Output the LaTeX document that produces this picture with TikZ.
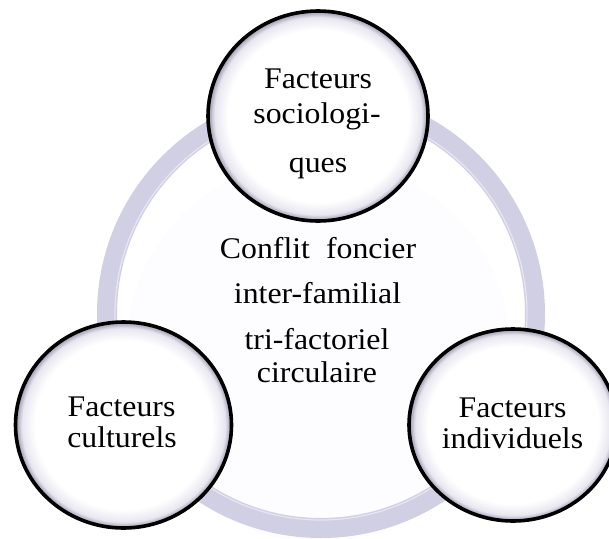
\documentclass[tikz,border=0pt]{standalone}
\usepackage{fontspec}
\setmainfont{Liberation Serif}[FakeStretch=1.06]
\usetikzlibrary{shapes.geometric}
\definecolor{ringcol}{RGB}{209,207,228}
\definecolor{ringhi}{RGB}{232,230,243}
\definecolor{discfill}{RGB}{253,252,255}
\definecolor{edgeshade}{RGB}{150,148,168}
\definecolor{edgemid}{RGB}{232,231,240}
\pgfdeclareradialshading{bubble}{\pgfpoint{0bp}{0bp}}{color(0bp)=(white); color(20.5bp)=(white); color(23.5bp)=(edgemid); color(25bp)=(edgeshade); color(50bp)=(edgeshade)}
\tikzset{
  factor/.style={ellipse, draw=black, line width=3.6pt, shade, shading=bubble, inner sep=0pt},
  lbl/.style={anchor=base, font=\fontsize{30}{32}\selectfont, inner sep=0pt},
}
\begin{document}
\begin{tikzpicture}[x=1pt,y=-1pt]
\useasboundingbox (0,0) rectangle (609,538);
\clip (0,0) rectangle (609,538);
\fill[discfill] (318,350) circle[radius=192pt];
\fill[ringcol, even odd rule] (321,314) circle[radius=224pt] (321,314) circle[radius=204pt];
\draw[ringhi, line width=1.2pt] (321,314) circle[radius=206pt];
\node[factor, minimum width=220pt, minimum height=210pt] (soc) at (318,116) {};
\node[factor, minimum width=216pt, minimum height=206pt] (cul) at (123.5,425) {};
\node[factor, minimum width=208pt, minimum height=192pt] (ind) at (513,425) {};
\node[lbl] (soc1) at (318,88) {Facteurs};
\node[lbl] (soc2) at (317,123) {sociologi-};
\node[lbl] (soc3) at (318,172) {ques};
\node[lbl] (c1) at (318,258) {Conflit\hspace*{16pt}foncier};
\node[lbl] (c2) at (317.5,303) {inter-familial};
\node[lbl] (c3) at (317,349) {tri-factoriel};
\node[lbl] (c4) at (317,382) {circulaire};
\node[lbl] (cul1) at (121.5,416) {Facteurs};
\node[lbl] (cul2) at (122,447) {culturels};
\node[lbl] (ind1) at (512.5,417) {Facteurs};
\node[lbl] (ind2) at (512.5,448) {individuels};
\end{tikzpicture}
\end{document}
